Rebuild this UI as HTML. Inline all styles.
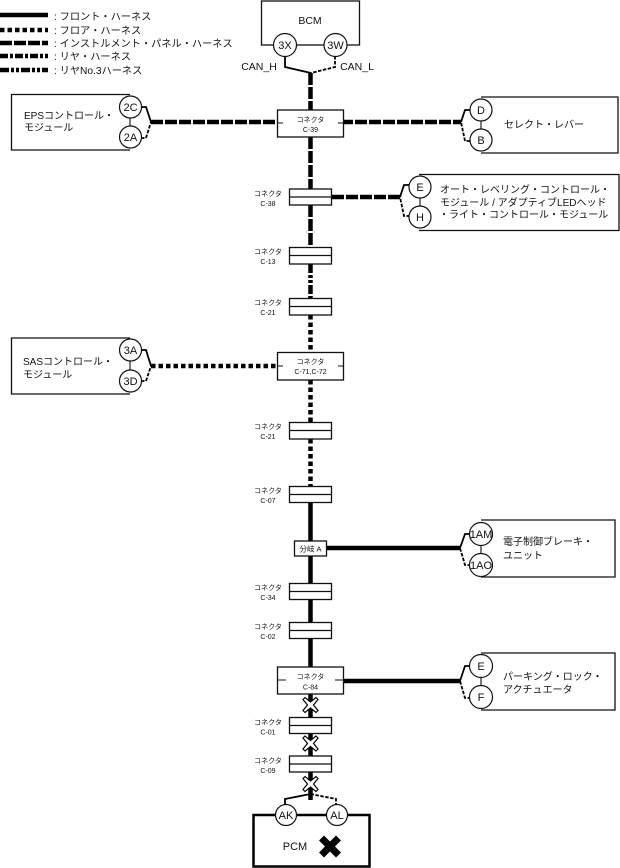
<!DOCTYPE html>
<html><head><meta charset="utf-8"><style>
html,body{margin:0;padding:0;background:#fff;width:620px;height:868px;overflow:hidden}
svg{display:block}
text{font-family:"Liberation Sans","Noto Sans CJK JP",sans-serif;fill:#111}
.l{font-size:10.2px}.m{font-size:10px}.s{font-size:7px;text-anchor:middle}.c{font-size:10.5px;text-anchor:middle}
.e{font-size:11px;text-anchor:middle}
.box{fill:#fff;stroke:#111;stroke-width:1.3}
.circ{fill:#fff;stroke:#111;stroke-width:1.2}
.F{stroke:#000;stroke-width:4.5;fill:none}
.O{stroke:#000;stroke-width:4.5;fill:none;stroke-dasharray:4.5 3}
.I{stroke:#000;stroke-width:4.5;fill:none;stroke-dasharray:12 2}
.R{stroke:#000;stroke-width:4.5;fill:none;stroke-dasharray:8 2 3 2}
.N{stroke:#000;stroke-width:4.5;fill:none;stroke-dasharray:9 2 3 2 3 2}
.p{stroke:#000;stroke-width:1.8;fill:none}
.d{stroke:#000;stroke-width:1.8;fill:none;stroke-dasharray:3.5 1.5}
.t{stroke:#111;stroke-width:1.1;fill:none}
</style></head><body>
<svg width="620" height="868" viewBox="0 0 620 868" xmlns="http://www.w3.org/2000/svg">
<!-- legend -->
<path class="F" d="M0 15H48"/><path class="O" d="M0 30H48"/><path class="I" d="M0 43H48"/><path class="R" d="M0 56H48"/><path class="N" d="M0 70H48"/>
<text class="l" x="54" y="20">: フロント・ハーネス</text>
<text class="l" x="54" y="34">: フロア・ハーネス</text>
<text class="l" x="54" y="47">: インストルメント・パネル・ハーネス</text>
<text class="l" x="54" y="60">: リヤ・ハーネス</text>
<text class="l" x="54" y="74">: リヤNo.3ハーネス</text>

<!-- main vertical -->
<path class="I" d="M310.500 73V110"/><path class="I" d="M310.500 137V189"/><path class="I" d="M310.500 205V247"/>
<path class="N" d="M310.500 264V298"/>
<path class="O" d="M310.500 315V352"/><path class="O" d="M310.500 380V422"/><path class="O" d="M310.500 439V486"/>
<path class="F" d="M310.500 502V800"/>

<!-- horizontals -->
<path class="I" d="M151 122H280"/><path class="I" d="M341 122H461"/>
<path class="I" d="M332 197H400"/>
<path class="O" d="M151 366H280"/>
<path class="F" d="M327 548H460"/><path class="F" d="M343 681H460"/>

<!-- BCM -->
<rect class="box" x="261.500" y="1" width="98" height="44"/>
<text class="c" x="310" y="24">BCM</text>
<path class="p" d="M285 56V67L311 73"/><path class="d" d="M335 56V67L311 73"/>
<circle class="circ" cx="285" cy="45" r="11.500"/><circle class="circ" cx="335.500" cy="45" r="11.500"/>
<text class="e" x="285" y="49">3X</text><text class="e" x="335.500" y="49">3W</text>
<text class="c" x="259" y="70">CAN_H</text><text class="c" x="357" y="70">CAN_L</text>

<!-- EPS -->
<path class="box" d="M130 94.500H11.500V150H130"/>
<path class="t" d="M130 107V137"/>
<path class="p" d="M141 107H146L151 122"/><path class="d" d="M141 138H146L151 122"/>
<circle class="circ" cx="130.500" cy="107" r="11"/><circle class="circ" cx="130.500" cy="137" r="11"/>
<text class="e" x="130.500" y="111">2C</text><text class="e" x="130.500" y="141">2A</text>
<text class="m" x="24" y="119">EPSコントロール・</text><text class="m" x="24" y="131">モジュール</text>

<!-- C-39 -->
<rect class="box" x="277.500" y="110" width="66" height="27"/>
<path class="t" d="M277.500 123H283M338 123H343.500"/>
<text class="s" x="310.500" y="122">コネクタ</text><text class="s" x="310.500" y="132">C-39</text>

<!-- select -->
<path class="box" d="M481 97H618V153H481"/>
<path class="t" d="M481 110V140"/>
<path class="p" d="M470 110H465L461 122"/><path class="d" d="M470 141H465L461 122"/>
<circle class="circ" cx="481" cy="110" r="11"/><circle class="circ" cx="481" cy="140" r="11"/>
<text class="e" x="481" y="114">D</text><text class="e" x="481" y="144">B</text>
<text class="m" x="504" y="128">セレクト・レバー</text>

<!-- auto level -->
<path class="box" d="M419 174.500H619V230.500H419"/>
<path class="t" d="M420 187V217"/>
<path class="p" d="M410 185H404L400 197"/><path class="d" d="M410 216H404L400 197"/>
<circle class="circ" cx="420" cy="187" r="11"/><circle class="circ" cx="420" cy="217" r="11"/>
<text class="e" x="420" y="191">E</text><text class="e" x="420" y="221">H</text>
<text class="m" x="440" y="193">オート・レベリング・コントロール・</text>
<text class="m" x="440" y="206">モジュール / アダプティブLEDヘッド</text>
<text class="m" x="439" y="218">・ライト・コントロール・モジュール</text>

<!-- SAS -->
<path class="box" d="M130 338H11.500V394H130"/>
<path class="t" d="M130 350V380"/>
<path class="p" d="M141 350H146L151 366"/><path class="d" d="M141 381H146L151 366"/>
<circle class="circ" cx="130.500" cy="350" r="11"/><circle class="circ" cx="130.500" cy="381" r="11"/>
<text class="e" x="130.500" y="354">3A</text><text class="e" x="130.500" y="385">3D</text>
<text class="m" x="23" y="365">SASコントロール・</text><text class="m" x="23" y="378">モジュール</text>

<!-- C-71 -->
<rect class="box" x="277.500" y="352.500" width="66" height="27.500"/>
<path class="t" d="M277.500 366H283M338 366H343.500"/>
<text class="s" x="310.500" y="364">コネクタ</text><text class="s" x="310.500" y="374">C-71,C-72</text>

<!-- small connectors -->
<g>
<rect class="box" x="289.500" y="189" width="42" height="16"/><path class="box" d="M289.500 197H331.500"/>
<text class="s" x="268" y="196">コネクタ</text><text class="s" x="268" y="206">C-38</text>
<rect class="box" x="289.500" y="247.500" width="42" height="16.500"/><path class="box" d="M289.500 255.500H331.500"/>
<text class="s" x="268" y="254">コネクタ</text><text class="s" x="268" y="264">C-13</text>
<rect class="box" x="289.500" y="298.500" width="42" height="16.500"/><path class="box" d="M289.500 306.500H331.500"/>
<text class="s" x="268" y="305">コネクタ</text><text class="s" x="268" y="315">C-21</text>
<rect class="box" x="289.500" y="422.500" width="42" height="16.500"/><path class="box" d="M289.500 430.500H331.500"/>
<text class="s" x="268" y="429">コネクタ</text><text class="s" x="268" y="439">C-21</text>
<rect class="box" x="289.500" y="486.500" width="42" height="16"/><path class="box" d="M289.500 494.500H331.500"/>
<text class="s" x="268" y="493">コネクタ</text><text class="s" x="268" y="503">C-07</text>
<rect class="box" x="289.500" y="583.500" width="42" height="16"/><path class="box" d="M289.500 591.500H331.500"/>
<text class="s" x="268" y="590">コネクタ</text><text class="s" x="268" y="600">C-34</text>
<rect class="box" x="289.500" y="622.500" width="42" height="16"/><path class="box" d="M289.500 630.500H331.500"/>
<text class="s" x="268" y="629">コネクタ</text><text class="s" x="268" y="639">C-02</text>
<rect class="box" x="289.500" y="717.500" width="42" height="16"/><path class="box" d="M289.500 725.500H331.500"/>
<text class="s" x="268" y="724.500">コネクタ</text><text class="s" x="268" y="734.500">C-01</text>
<rect class="box" x="289.500" y="756" width="42" height="16"/><path class="box" d="M289.500 764H331.500"/>
<text class="s" x="268" y="763">コネクタ</text><text class="s" x="268" y="773">C-09</text>
</g>

<!-- branch A -->
<rect class="box" x="294.500" y="541" width="32" height="15"/>
<text class="s" x="310.500" y="551.500" style="font-size:7.500px">分岐 A</text>

<!-- brake -->
<path class="box" d="M481 520H615V577H481"/>
<path class="t" d="M481 534V565"/>
<path class="p" d="M471 534H465L460 548"/><path class="d" d="M471 565H465L460 548"/>
<circle class="circ" cx="481" cy="534" r="11.500"/><circle class="circ" cx="481" cy="565" r="11.500"/>
<text class="e" x="481" y="538">1AM</text><text class="e" x="481" y="569">1AO</text>
<text class="m" x="503" y="545">電子制御ブレーキ・</text><text class="m" x="503" y="559">ユニット</text>

<!-- C-84 -->
<rect class="box" x="277.500" y="667" width="66" height="27"/>
<path class="t" d="M277.500 680H286M335 680H343.500"/>
<text class="s" x="310.500" y="679">コネクタ</text><text class="s" x="310.500" y="689.500">C-84</text>

<!-- parking -->
<path class="box" d="M481 653H615V710H481"/>
<path class="t" d="M481 666V697"/>
<path class="p" d="M471 666H465L460 681"/><path class="d" d="M471 698H465L460 681"/>
<circle class="circ" cx="481" cy="666" r="11.500"/><circle class="circ" cx="481" cy="697" r="11.500"/>
<text class="e" x="481" y="670">E</text><text class="e" x="481" y="701">F</text>
<text class="m" x="503" y="680">パーキング・ロック・</text><text class="m" x="503" y="693">アクチュエータ</text>

<!-- X marks -->
<g fill="#fff" stroke="#000" stroke-width="1.2">
<path d="M303 699.500L305 697.500L310.500 702L316 697.500L318 699.500L313.500 705L318 710.500L316 712.500L310.500 708L305 712.500L303 710.500L307.500 705Z"/>
<path transform="translate(0,38.500)" d="M303 699.500L305 697.500L310.500 702L316 697.500L318 699.500L313.500 705L318 710.500L316 712.500L310.500 708L305 712.500L303 710.500L307.500 705Z"/>
<path transform="translate(0,79)" d="M303 699.500L305 697.500L310.500 702L316 697.500L318 699.500L313.500 705L318 710.500L316 712.500L310.500 708L305 712.500L303 710.500L307.500 705Z"/>
</g>

<!-- PCM -->
<path class="p" d="M310.500 794L285 799V806"/><path class="d" d="M310.500 794L336 799V806"/>
<rect x="253.500" y="815" width="116" height="51.500" fill="#fff" stroke="#000" stroke-width="2.500"/>
<circle class="circ" cx="286" cy="815" r="10.500"/><circle class="circ" cx="337" cy="815" r="10.500"/>
<text class="e" x="286" y="819">AK</text><text class="e" x="337" y="819">AL</text>
<text class="e" x="295" y="850">PCM</text>
<path d="M321.500 838L338.500 855M338.500 838L321.500 855" stroke="#000" stroke-width="7" fill="none"/>
</svg>
</body></html>
